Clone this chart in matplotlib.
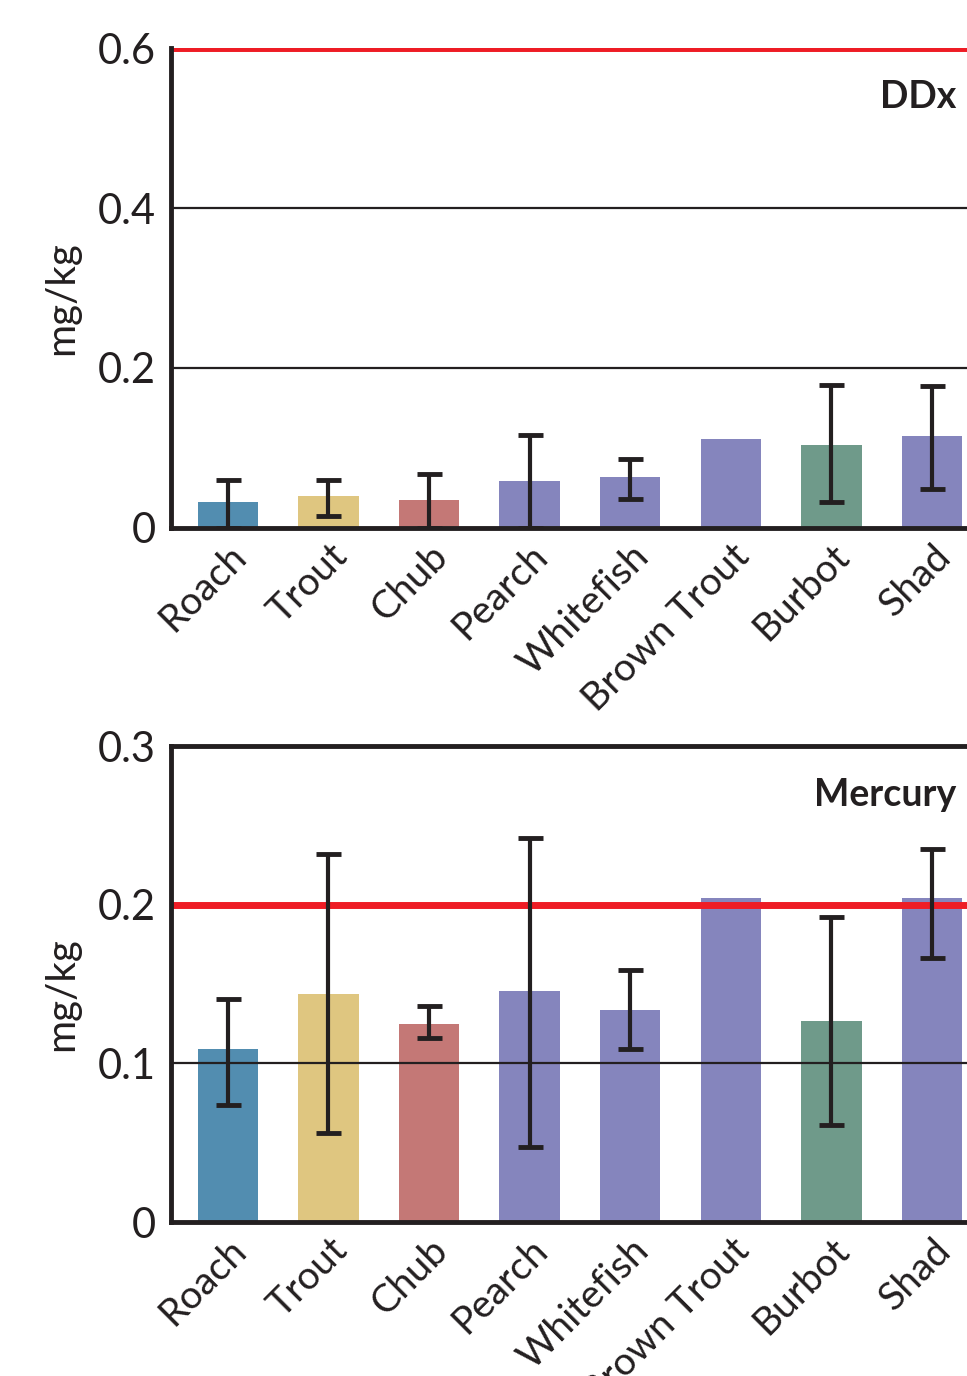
import matplotlib
matplotlib.use("Agg")
import matplotlib.pyplot as plt
import numpy as np

plt.rcParams['font.family'] = ['Lato', 'DejaVu Sans']

species = ["Roach", "Trout", "Chub", "Pearch", "Whitefish", "Brown Trout", "Burbot", "Shad"]
colors = ["#528db0", "#dfc680", "#c47876", "#8585bd", "#8585bd", "#8585bd", "#6f9a8a", "#8585bd"]

# DDx (mg/kg)
ddx_mean = [0.033, 0.040, 0.035, 0.059, 0.064, 0.111, 0.104, 0.115]
ddx_low = [0.0, 0.015, 0.0, 0.0, 0.036, None, 0.032, 0.049]
ddx_high = [0.060, 0.060, 0.0675, 0.116, 0.086, None, 0.179, 0.177]
ddx_limit = 0.6
ddx_ticks = [0, 0.2, 0.4, 0.6]
ddx_ticklabels = ["0", "0.2", "0.4", "0.6"]

# Mercury (mg/kg)
hg_mean = [0.109, 0.1437, 0.1248, 0.1456, 0.1336, 0.204, 0.127, 0.204]
hg_low = [0.074, 0.056, 0.116, 0.0475, 0.109, None, 0.061, 0.1665]
hg_high = [0.1405, 0.2317, 0.136, 0.242, 0.159, None, 0.1924, 0.235]
hg_limit = 0.2
hg_ticks = [0, 0.1, 0.2, 0.3]
hg_ticklabels = ["0", "0.1", "0.2", "0.3"]

INK = "#231f20"
RED = "#ee1c25"

fig = plt.figure(figsize=(9.67, 13.76), dpi=100)
ax1 = fig.add_axes([0.1768, 0.6163, 1 - 0.1768, 0.9651 - 0.6163])
ax2 = fig.add_axes([0.1768, 0.1119, 1 - 0.1768, 0.4578 - 0.1119])


def panel(ax, mean, low, high, limit, ticks, ticklabels, title, ymax, top_spine):
    x = np.arange(len(species))
    ax.bar(x, mean, width=0.6, color=colors, zorder=1)
    for t in ticks[1:]:
        if t < ymax and abs(t - limit) > 1e-9:
            ax.axhline(t, color=INK, lw=1.6, zorder=2)
    ax.axhline(limit, color=RED, lw=5, zorder=3)
    idx = [i for i in range(len(species)) if low[i] is not None]
    xs = [x[i] for i in idx]
    mid = [(low[i] + high[i]) / 2 for i in idx]
    err = [(high[i] - low[i]) / 2 for i in idx]
    ax.errorbar(xs, mid, yerr=err, fmt='none', ecolor=INK, elinewidth=3,
                capsize=9, capthick=3.5, zorder=4)
    ax.set_xlim(-0.566, 7.348)
    ax.set_ylim(0, ymax)
    ax.set_yticks(ticks)
    ax.set_yticklabels(ticklabels)
    ax.set_xticks(x)
    ax.set_xticklabels(species, rotation=45, ha='right', va='top',
                       rotation_mode='anchor')
    ax.tick_params(axis='both', length=0, colors=INK)
    ax.tick_params(axis='y', pad=11, labelsize=30)
    ax.tick_params(axis='x', pad=7, labelsize=28)
    for s in ['left', 'bottom', 'top']:
        ax.spines[s].set_linewidth(3.5)
        ax.spines[s].set_color(INK)
        ax.spines[s].set_zorder(5)
    ax.spines['right'].set_visible(False)
    ax.spines['top'].set_visible(top_spine)
    ax.set_ylabel("mg/kg", fontsize=29, color=INK, ha='center', va='center')
    ax.yaxis.set_label_coords(-0.137, 0.48)
    ax.text(0.987, 0.875, title, transform=ax.transAxes, ha='right', va='baseline',
            fontsize=27, fontweight='bold', color=INK)


panel(ax1, ddx_mean, ddx_low, ddx_high, ddx_limit, ddx_ticks, ddx_ticklabels,
      "DDx", 0.6, False)
panel(ax2, hg_mean, hg_low, hg_high, hg_limit, hg_ticks, hg_ticklabels,
      "Mercury", 0.3, True)

fig.savefig("out.png", dpi=100)
